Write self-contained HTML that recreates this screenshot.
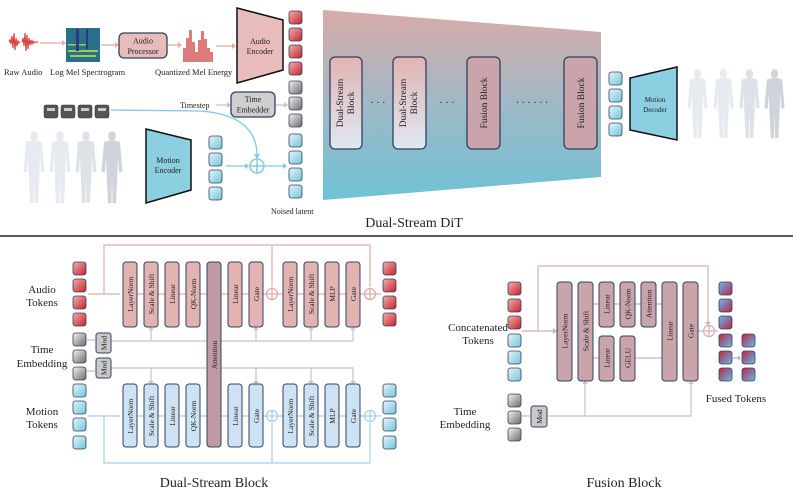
<!DOCTYPE html>
<html><head><meta charset="utf-8"><style>
html,body{margin:0;padding:0;background:#fff;width:793px;height:497px;overflow:hidden}
svg{display:block}
text{font-family:"Liberation Serif",serif;fill:#222}
</style></head><body>
<svg width="793" height="497" viewBox="0 0 793 497" xmlns="http://www.w3.org/2000/svg">
<defs>
<linearGradient id="tr" x1="0" y1="0" x2="1" y2="1"><stop offset="0" stop-color="#f0b0b0"/><stop offset="1" stop-color="#c8202a"/></linearGradient>
<linearGradient id="tg" x1="0" y1="0" x2="1" y2="1"><stop offset="0" stop-color="#f4f4f4"/><stop offset="1" stop-color="#6a6a6a"/></linearGradient>
<linearGradient id="tb" x1="0" y1="0" x2="1" y2="1"><stop offset="0" stop-color="#e6f5fa"/><stop offset="1" stop-color="#72c4dc"/></linearGradient>
<linearGradient id="tm1" x1="0" y1="0" x2="1" y2="1"><stop offset="0" stop-color="#6cc2da"/><stop offset="0.5" stop-color="#8a6fa0"/><stop offset="1" stop-color="#d02030"/></linearGradient>
<linearGradient id="tm2" x1="0" y1="0" x2="1" y2="1"><stop offset="0" stop-color="#d02030"/><stop offset="0.5" stop-color="#8a6fa0"/><stop offset="1" stop-color="#6cc2da"/></linearGradient>
<linearGradient id="trap" x1="0" y1="0" x2="0" y2="1"><stop offset="0" stop-color="#d8aba8"/><stop offset="0.5" stop-color="#a0b8c6"/><stop offset="1" stop-color="#6ec2d6"/></linearGradient>
<linearGradient id="dsb" x1="0" y1="0" x2="0" y2="1"><stop offset="0" stop-color="#e2b3b2"/><stop offset="1" stop-color="#dfe8f2"/></linearGradient>
<symbol id="hm" viewBox="0 0 24 75"><g fill="#e6ebf2"><ellipse cx="12" cy="6" rx="3.8" ry="4.8"/><path d="M4 12 Q12 8.5 20 12 L22.5 42 L19 42 L18 26 L17.5 42 L16 73 L12.5 73 L12 43 L11.5 73 L8 73 L6.5 42 L6 26 L5 42 L1.5 42 Z"/></g></symbol>
</defs>

<!-- ===== TOP ===== -->
<g stroke="#d9484a" stroke-width="1.2">
<path d="M9 42 L10 40 L11 44 L12 36 L13 48 L14 33 L15 50 L16 38 L17 46 L18 41 L19 43 L20 42 M22 42 L23 38 L24 46 L25 33 L26 51 L27 35 L28 49 L29 38 L30 45 L31 40 L32 44 L33 41 L34 43 L35 42 L38 42"/>
</g>
<line x1="40" y1="43" x2="62" y2="43" stroke="#e4aaa8" stroke-width="1.3"/><path d="M62 40 L66 43 L62 46Z" fill="#e4aaa8"/>
<rect x="66" y="28" width="34" height="34" fill="#2a6f8c"/>
<g fill="#a8d84a" opacity=".9"><rect x="68" y="50" width="30" height="2"/><rect x="70" y="55" width="26" height="2"/><rect x="68" y="44" width="20" height="1.5"/></g>
<g fill="#2c3c7a"><rect x="76" y="29" width="3" height="22"/><rect x="86" y="29" width="2" height="20"/></g>
<text x="4" y="75" font-size="8.5">Raw Audio</text>
<text x="50" y="75" font-size="8.5">Log Mel Spectrogram</text>
<line x1="101" y1="45" x2="115" y2="45" stroke="#e4aaa8" stroke-width="1.3"/><path d="M115 42 L119 45 L115 48Z" fill="#e4aaa8"/>
<rect x="119" y="33" width="48" height="25" rx="5" fill="#e8bcbb" stroke="#33405e" stroke-width="1.3"/>
<text x="143" y="43.5" font-size="8" text-anchor="middle">Audio</text><text x="143" y="54" font-size="8" text-anchor="middle">Processor</text>
<line x1="168" y1="45" x2="178" y2="45" stroke="#e4aaa8" stroke-width="1.3"/><path d="M178 42 L182 45 L178 48Z" fill="#e4aaa8"/>
<path d="M183 62 L183 48 L186 48 L186 38 L189 38 L189 30 L192 30 L192 42 L195 42 L195 52 L198 52 L198 40 L201 40 L201 31 L204 31 L204 39 L207 39 L207 48 L210 48 L210 52 L213 52 L213 62Z" fill="#de7a7a"/>
<text x="155" y="75" font-size="8.5">Quantized Mel Energy</text>
<line x1="216" y1="46" x2="232" y2="46" stroke="#e4aaa8" stroke-width="1.3"/><path d="M232 43 L236 46 L232 49Z" fill="#e4aaa8"/>
<path d="M237 8 L283 20 L283 70 L237 83Z" fill="#e8bcbb" stroke="#111" stroke-width="1.5"/>
<text x="260" y="44" font-size="8" text-anchor="middle">Audio</text><text x="260" y="54" font-size="8" text-anchor="middle">Encoder</text>

<g stroke="#33405e" stroke-width=".8">
<rect x="289" y="11" width="13" height="13" rx="2.5" fill="url(#tr)"/><rect x="289" y="28" width="13" height="13" rx="2.5" fill="url(#tr)"/><rect x="289" y="45" width="13" height="13" rx="2.5" fill="url(#tr)"/><rect x="289" y="62" width="13" height="13" rx="2.5" fill="url(#tr)"/>
<rect x="289" y="81" width="13" height="13" rx="2.5" fill="url(#tg)"/><rect x="289" y="97" width="13" height="13" rx="2.5" fill="url(#tg)"/><rect x="289" y="114" width="13" height="13" rx="2.5" fill="url(#tg)"/>
<rect x="289" y="134" width="13" height="13" rx="2.5" fill="url(#tb)"/><rect x="289" y="151" width="13" height="13" rx="2.5" fill="url(#tb)"/><rect x="289" y="168" width="13" height="13" rx="2.5" fill="url(#tb)"/><rect x="289" y="185" width="13" height="13" rx="2.5" fill="url(#tb)"/>
</g>
<text x="271" y="214" font-size="8">Noised latent</text>

<text x="180" y="108" font-size="8">Timestep</text>
<line x1="216" y1="105" x2="227" y2="105" stroke="#c4c4c4" stroke-width="1.3"/><path d="M227 102 L231 105 L227 108Z" fill="#c4c4c4"/>
<rect x="231" y="92" width="44" height="25" rx="5" fill="#cfcfd2" stroke="#33405e" stroke-width="1.3"/>
<text x="253" y="102" font-size="8" text-anchor="middle">Time</text><text x="253" y="112.5" font-size="8" text-anchor="middle">Embedder</text>
<line x1="276" y1="105" x2="284" y2="105" stroke="#c4c4c4" stroke-width="1.3"/><path d="M284 102 L288 105 L284 108Z" fill="#c4c4c4"/>

<g fill="#555" stroke="#333" stroke-width=".5">
<rect x="44" y="105" width="14" height="13" rx="2"/><rect x="61" y="105" width="14" height="13" rx="2"/><rect x="78" y="105" width="14" height="13" rx="2"/><rect x="95" y="105" width="14" height="13" rx="2"/>
</g>
<g fill="#ccc"><rect x="47" y="108" width="8" height="3"/><rect x="64" y="108" width="8" height="3"/><rect x="81" y="108" width="8" height="3"/><rect x="98" y="108" width="8" height="3"/></g>
<path d="M111 110 L200 111 Q256 115 257 154" fill="none" stroke="#7ecbe2" stroke-width="1.3"/><path d="M254 154 L257 159 L260 154Z" fill="#7ecbe2"/>

<use href="#hm" x="20" y="130" width="28" height="75"/>
<use href="#hm" x="46" y="130" width="28" height="75"/>
<use href="#hm" x="72" y="130" width="28" height="75" style="filter:brightness(.96)"/>
<use href="#hm" x="98" y="130" width="28" height="75" style="filter:brightness(.9)"/>

<path d="M146 129 L191 140 L191 190 L146 203Z" fill="#8ccfe0" stroke="#111" stroke-width="1.5"/>
<text x="168" y="163" font-size="8" text-anchor="middle">Motion</text><text x="168" y="173" font-size="8" text-anchor="middle">Encoder</text>
<g stroke="#33405e" stroke-width=".8">
<rect x="209" y="136" width="13" height="13" rx="2.5" fill="url(#tb)"/><rect x="209" y="153" width="13" height="13" rx="2.5" fill="url(#tb)"/><rect x="209" y="170" width="13" height="13" rx="2.5" fill="url(#tb)"/><rect x="209" y="187" width="13" height="13" rx="2.5" fill="url(#tb)"/>
</g>
<line x1="226" y1="166" x2="245" y2="166" stroke="#7ecbe2" stroke-width="1.3"/><path d="M245 163 L249 166 L245 169Z" fill="#7ecbe2"/>
<circle cx="257" cy="166" r="7" fill="#fff" stroke="#7ecbe2" stroke-width="1.5"/><path d="M250 166 H264 M257 159 V173" stroke="#7ecbe2" stroke-width="1.5"/>
<line x1="265" y1="166" x2="283" y2="166" stroke="#7ecbe2" stroke-width="1.3"/><path d="M283 163 L287 166 L283 169Z" fill="#7ecbe2"/>

<path d="M323 10 L601 32 L601 177 L323 200Z" fill="url(#trap)"/>
<rect x="330" y="57" width="32" height="92" rx="5" fill="url(#dsb)" stroke="#33405e" stroke-width="1.3"/>
<rect x="393" y="57" width="33" height="92" rx="5" fill="url(#dsb)" stroke="#33405e" stroke-width="1.3"/>
<rect x="467" y="57" width="33" height="92" rx="5" fill="#c9a4ab" stroke="#33405e" stroke-width="1.3"/>
<rect x="564" y="57" width="33" height="92" rx="5" fill="#c9a4ab" stroke="#33405e" stroke-width="1.3"/>
<g font-size="9.5" text-anchor="middle">
<text transform="translate(343,103) rotate(-90)">Dual-Stream</text><text transform="translate(354,103) rotate(-90)">Block</text>
<text transform="translate(406,103) rotate(-90)">Dual-Stream</text><text transform="translate(417,103) rotate(-90)">Block</text>
<text transform="translate(487,103) rotate(-90)">Fusion Block</text>
<text transform="translate(584,103) rotate(-90)">Fusion Block</text>
</g>
<text x="378" y="106" font-size="10" text-anchor="middle">· · ·</text>
<text x="447" y="106" font-size="10" text-anchor="middle">· · ·</text>
<text x="532" y="106" font-size="10" text-anchor="middle">· · · · · ·</text>
<g stroke="#33405e" stroke-width=".8">
<rect x="609" y="72" width="13" height="13" rx="2.5" fill="url(#tb)"/><rect x="609" y="89" width="13" height="13" rx="2.5" fill="url(#tb)"/><rect x="609" y="106" width="13" height="13" rx="2.5" fill="url(#tb)"/><rect x="609" y="123" width="13" height="13" rx="2.5" fill="url(#tb)"/>
</g>
<path d="M630 78 L677 67 L677 140 L630 130Z" fill="#8ccfe0" stroke="#111" stroke-width="1.5"/>
<text x="655" y="102" font-size="7" text-anchor="middle">Motion</text><text x="655" y="112" font-size="7" text-anchor="middle">Decoder</text>
<use href="#hm" x="684" y="68" width="27" height="72"/>
<use href="#hm" x="710" y="68" width="27" height="72"/>
<use href="#hm" x="736" y="68" width="27" height="72" style="filter:brightness(.96)"/>
<use href="#hm" x="761" y="68" width="27" height="72" style="filter:brightness(.9)"/>
<text x="414" y="227" font-size="14" text-anchor="middle">Dual-Stream DiT</text>
<line x1="0" y1="236" x2="793" y2="236" stroke="#222" stroke-width="1.6"/>

<!-- ===== DUAL-STREAM BLOCK ===== -->
<g stroke="#33405e" stroke-width=".8">
<rect x="73" y="262" width="13" height="13" rx="2.5" fill="url(#tr)"/><rect x="73" y="279" width="13" height="13" rx="2.5" fill="url(#tr)"/><rect x="73" y="296" width="13" height="13" rx="2.5" fill="url(#tr)"/><rect x="73" y="313" width="13" height="13" rx="2.5" fill="url(#tr)"/>
<rect x="73" y="333" width="13" height="13" rx="2.5" fill="url(#tg)"/><rect x="73" y="350" width="13" height="13" rx="2.5" fill="url(#tg)"/><rect x="73" y="367" width="13" height="13" rx="2.5" fill="url(#tg)"/>
<rect x="73" y="384" width="13" height="13" rx="2.5" fill="url(#tb)"/><rect x="73" y="401" width="13" height="13" rx="2.5" fill="url(#tb)"/><rect x="73" y="418" width="13" height="13" rx="2.5" fill="url(#tb)"/><rect x="73" y="436" width="13" height="13" rx="2.5" fill="url(#tb)"/>
<rect x="383" y="262" width="13" height="13" rx="2.5" fill="url(#tr)"/><rect x="383" y="279" width="13" height="13" rx="2.5" fill="url(#tr)"/><rect x="383" y="296" width="13" height="13" rx="2.5" fill="url(#tr)"/><rect x="383" y="313" width="13" height="13" rx="2.5" fill="url(#tr)"/>
<rect x="383" y="384" width="13" height="13" rx="2.5" fill="url(#tb)"/><rect x="383" y="401" width="13" height="13" rx="2.5" fill="url(#tb)"/><rect x="383" y="418" width="13" height="13" rx="2.5" fill="url(#tb)"/><rect x="383" y="436" width="13" height="13" rx="2.5" fill="url(#tb)"/>
</g>
<g font-size="11" text-anchor="middle">
<text x="42" y="293">Audio</text><text x="42" y="306">Tokens</text>
<text x="42" y="353">Time</text><text x="42" y="367">Embedding</text>
<text x="42" y="415">Motion</text><text x="42" y="428">Tokens</text>
</g>
<g fill="none" stroke="#e4aaa8" stroke-width="1.2">
<path d="M88 294 H120 M104 294 V245 H370 V287 M272 245 V287"/>
<path d="M137 294 H144 M158 294 H165 M179 294 H186 M200 294 H207 M221 294 H228 M242 294 H249 M263 294 H266 M278 294 H283 M297 294 H304 M318 294 H325 M339 294 H346 M360 294 H364 M376 294 H381"/>
</g>
<g fill="none" stroke="#a9cfe8" stroke-width="1.2">
<path d="M88 416 H120 M104 416 V463 H370 V423 M272 463 V423"/>
<path d="M137 416 H144 M158 416 H165 M179 416 H186 M200 416 H207 M221 416 H228 M242 416 H249 M263 416 H266 M278 416 H283 M297 416 H304 M318 416 H325 M339 416 H346 M360 416 H364 M376 416 H381"/>
</g>
<g fill="none" stroke="#c4c4c4" stroke-width="1.2">
<path d="M87 340 H95 M87 371 H95"/>
<path d="M111 341 H353 V329 M151 341 V329 M256 341 V329 M311 341 V329"/>
<path d="M111 368 H353 V382 M151 368 V382 M256 368 V382 M311 368 V382"/>
</g>
<g fill="#c4c4c4"><path d="M148 330 L151 327 L154 330Z M253 330 L256 327 L259 330Z M308 330 L311 327 L314 330Z M350 330 L353 327 L356 330Z M148 381 L151 384 L154 381Z M253 381 L256 384 L259 381Z M308 381 L311 384 L314 381Z M350 381 L353 384 L356 381Z"/></g>
<g fill="#fff" stroke-width="1.3">
<circle cx="272" cy="294" r="5.5" stroke="#e4aaa8"/><circle cx="370" cy="294" r="5.5" stroke="#e4aaa8"/>
<circle cx="272" cy="416" r="5.5" stroke="#a9cfe8"/><circle cx="370" cy="416" r="5.5" stroke="#a9cfe8"/>
</g>
<path d="M266.5 294 H277.5 M272 288.5 V299.5 M364.5 294 H375.5 M370 288.5 V299.5" stroke="#e4aaa8" stroke-width="1.3"/>
<path d="M266.5 416 H277.5 M272 410.5 V421.5 M364.5 416 H375.5 M370 410.5 V421.5" stroke="#a9cfe8" stroke-width="1.3"/>
<g stroke="#33405e" stroke-width="1">
<rect x="96" y="333" width="15" height="20" rx="2.5" fill="#c9c9cb"/><rect x="96" y="358" width="15" height="20" rx="2.5" fill="#c9c9cb"/>
<g fill="#e3b3b2">
<rect x="123" y="262" width="14" height="65" rx="3"/><rect x="144" y="262" width="14" height="65" rx="3"/><rect x="165" y="262" width="14" height="65" rx="3"/><rect x="186" y="262" width="14" height="65" rx="3"/>
<rect x="228" y="262" width="14" height="65" rx="3"/><rect x="249" y="262" width="14" height="65" rx="3"/><rect x="283" y="262" width="14" height="65" rx="3"/><rect x="304" y="262" width="14" height="65" rx="3"/><rect x="325" y="262" width="14" height="65" rx="3"/><rect x="346" y="262" width="14" height="65" rx="3"/>
</g>
<g fill="#cde3f3">
<rect x="123" y="384" width="14" height="63" rx="3"/><rect x="144" y="384" width="14" height="63" rx="3"/><rect x="165" y="384" width="14" height="63" rx="3"/><rect x="186" y="384" width="14" height="63" rx="3"/>
<rect x="228" y="384" width="14" height="63" rx="3"/><rect x="249" y="384" width="14" height="63" rx="3"/><rect x="283" y="384" width="14" height="63" rx="3"/><rect x="304" y="384" width="14" height="63" rx="3"/><rect x="325" y="384" width="14" height="63" rx="3"/><rect x="346" y="384" width="14" height="63" rx="3"/>
</g>
<rect x="207" y="262" width="14" height="185" rx="3" fill="#c09aa3"/>
</g>
<g font-size="7.5" text-anchor="middle">
<text transform="translate(106.5,343) rotate(-90)">Mod</text><text transform="translate(106.5,368) rotate(-90)">Mod</text>
<text transform="translate(133,294) rotate(-90)">LayerNorm</text><text transform="translate(154,294) rotate(-90)">Scale &amp; Shift</text><text transform="translate(175,294) rotate(-90)">Linear</text><text transform="translate(196,294) rotate(-90)">QK-Norm</text>
<text transform="translate(238,294) rotate(-90)">Linear</text><text transform="translate(259,294) rotate(-90)">Gate</text><text transform="translate(293,294) rotate(-90)">LayerNorm</text><text transform="translate(314,294) rotate(-90)">Scale &amp; Shift</text><text transform="translate(335,294) rotate(-90)">MLP</text><text transform="translate(356,294) rotate(-90)">Gate</text>
<text transform="translate(133,416) rotate(-90)">LayerNorm</text><text transform="translate(154,416) rotate(-90)">Scale &amp; Shift</text><text transform="translate(175,416) rotate(-90)">Linear</text><text transform="translate(196,416) rotate(-90)">QK-Norm</text>
<text transform="translate(238,416) rotate(-90)">Linear</text><text transform="translate(259,416) rotate(-90)">Gate</text><text transform="translate(293,416) rotate(-90)">LayerNorm</text><text transform="translate(314,416) rotate(-90)">Scale &amp; Shift</text><text transform="translate(335,416) rotate(-90)">MLP</text><text transform="translate(356,416) rotate(-90)">Gate</text>
<text transform="translate(217,355) rotate(-90)">Attention</text>
</g>
<text x="214" y="487" font-size="14" text-anchor="middle">Dual-Stream Block</text>

<!-- ===== FUSION BLOCK ===== -->
<g stroke="#33405e" stroke-width=".8">
<rect x="508" y="282" width="13" height="13" rx="2.5" fill="url(#tr)"/><rect x="508" y="299" width="13" height="13" rx="2.5" fill="url(#tr)"/><rect x="508" y="316" width="13" height="13" rx="2.5" fill="url(#tr)"/>
<rect x="508" y="334" width="13" height="13" rx="2.5" fill="url(#tb)"/><rect x="508" y="351" width="13" height="13" rx="2.5" fill="url(#tb)"/><rect x="508" y="368" width="13" height="13" rx="2.5" fill="url(#tb)"/>
<rect x="508" y="394" width="13" height="13" rx="2.5" fill="url(#tg)"/><rect x="508" y="411" width="13" height="13" rx="2.5" fill="url(#tg)"/><rect x="508" y="428" width="13" height="13" rx="2.5" fill="url(#tg)"/>
<rect x="719" y="282" width="13" height="13" rx="2.5" fill="url(#tm1)"/><rect x="719" y="299" width="13" height="13" rx="2.5" fill="url(#tm1)"/><rect x="719" y="316" width="13" height="13" rx="2.5" fill="url(#tm1)"/>
<rect x="719" y="334" width="13" height="13" rx="2.5" fill="url(#tm2)"/><rect x="719" y="351" width="13" height="13" rx="2.5" fill="url(#tm2)"/><rect x="719" y="368" width="13" height="13" rx="2.5" fill="url(#tm2)"/>
<rect x="742" y="334" width="13" height="13" rx="2.5" fill="url(#tm2)"/><rect x="742" y="351" width="13" height="13" rx="2.5" fill="url(#tm2)"/><rect x="742" y="368" width="13" height="13" rx="2.5" fill="url(#tm2)"/>
</g>
<line x1="733" y1="358" x2="738" y2="358" stroke="#c9a4ab" stroke-width="1.2"/><path d="M738 355.5 L741 358 L738 360.5Z" fill="#c9a4ab"/>
<g font-size="11" text-anchor="middle">
<text x="478" y="331">Concatenated</text><text x="478" y="344">Tokens</text>
<text x="465" y="415">Time</text><text x="465" y="428">Embedding</text>
<text x="736" y="402">Fused Tokens</text>
</g>
<g fill="none" stroke="#d6b0b5" stroke-width="1.2">
<path d="M522 331 H554 M538 331 V266 H708 V324"/>
<path d="M593 304 H599 M593 358 H599 M614 304 H620 M635 304 H641 M656 304 H662 M635 358 H662 M698 331 H703 M715 331 H718"/>
</g>
<path d="M553 328 L557 331 L553 334Z M705 322 L708 326 L711 322Z" fill="#d6b0b5"/>
<circle cx="709" cy="331" r="5.5" fill="#fff" stroke="#d6b0b5" stroke-width="1.3"/><path d="M703.5 331 H714.5 M709 325.5 V336.5" stroke="#d6b0b5" stroke-width="1.3"/>
<g fill="none" stroke="#c4c4c4" stroke-width="1.2"><path d="M522 416 H530 M547 416 H691 V383 M585 416 V383"/></g>
<path d="M582 384 L585 381 L588 384Z M688 384 L691 381 L694 384Z" fill="#c4c4c4"/>
<g stroke="#33405e" stroke-width="1" fill="#c9a4ab">
<rect x="531" y="406" width="16" height="21" rx="2.5" fill="#c9c9cb"/>
<rect x="557" y="282" width="15" height="99" rx="3"/><rect x="578" y="282" width="15" height="99" rx="3"/>
<rect x="599" y="282" width="15" height="45" rx="3"/><rect x="620" y="282" width="15" height="45" rx="3"/><rect x="641" y="282" width="15" height="45" rx="3"/>
<rect x="599" y="336" width="15" height="45" rx="3"/><rect x="620" y="336" width="15" height="45" rx="3"/>
<rect x="662" y="282" width="15" height="99" rx="3"/><rect x="683" y="282" width="15" height="99" rx="3"/>
</g>
<g font-size="7.5" text-anchor="middle">
<text transform="translate(542,416.5) rotate(-90)">Mod</text>
<text transform="translate(567.5,331) rotate(-90)">LayerNorm</text><text transform="translate(588.5,331) rotate(-90)">Scale &amp; Shift</text>
<text transform="translate(609.5,304) rotate(-90)">Linear</text><text transform="translate(630.5,304) rotate(-90)">QK-Norm</text><text transform="translate(651.5,304) rotate(-90)">Attention</text>
<text transform="translate(609.5,358) rotate(-90)">Linear</text><text transform="translate(630.5,358) rotate(-90)">GELU</text>
<text transform="translate(672.5,331) rotate(-90)">Linear</text><text transform="translate(693.5,331) rotate(-90)">Gate</text>
</g>
<text x="624" y="487" font-size="14" text-anchor="middle">Fusion Block</text>
</svg>
</body></html>
